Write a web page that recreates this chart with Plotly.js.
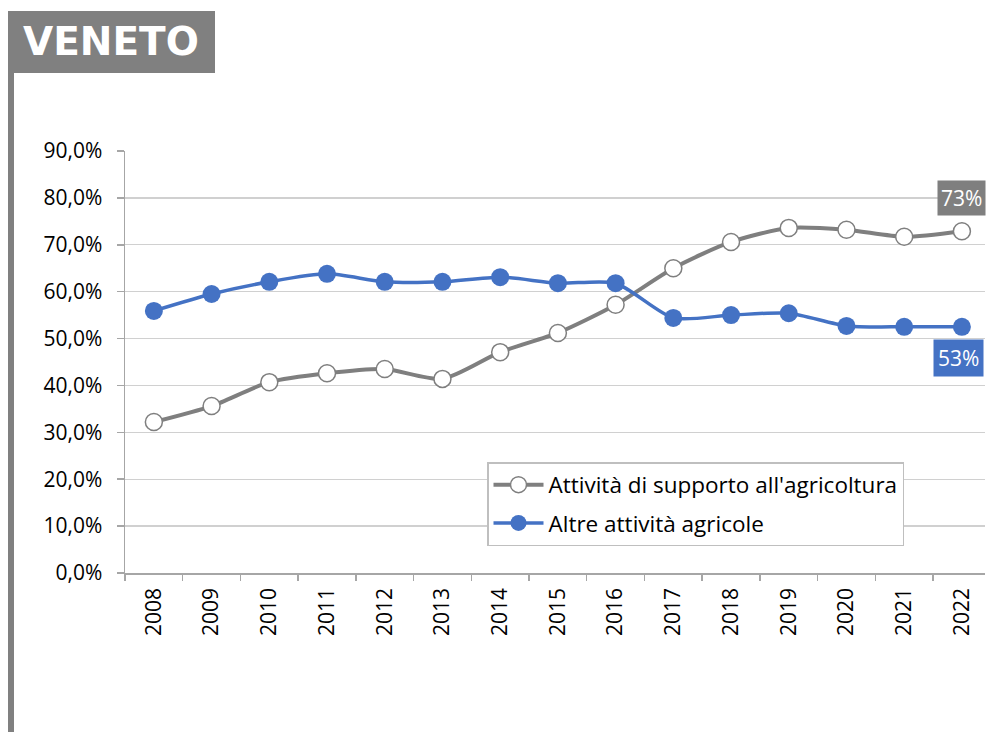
<!DOCTYPE html>
<html><head><meta charset="utf-8">
<script src="https://cdn.plot.ly/plotly-3.0.1.min.js"></script>
<style>html,body{margin:0;padding:0;background:#fff;}#chart{width:986px;height:732px;}</style>
</head><body><div id="chart"></div>
<script>
const years = ["2008","2009","2010","2011","2012","2013","2014","2015","2016","2017","2018","2019","2020","2021","2022"];
const supporto = [32.2,35.6,40.7,42.6,43.5,41.4,47.1,51.2,57.2,65.0,70.6,73.6,73.2,71.7,72.9];
const altre = [55.9,59.5,62.1,63.8,62.1,62.1,63.1,61.8,61.8,54.4,55.0,55.4,52.7,52.5,52.5];
const seriesNames = ["Attività di supporto all'agricoltura","Altre attività agricole"];
const lastLabels = ["73%","53%"];
const regionTitle = "VENETO";
const yTicks = [0,10,20,30,40,50,60,70,80,90];
const yTickText = ["0,0%","10,0%","20,0%","30,0%","40,0%","50,0%","60,0%","70,0%","80,0%","90,0%"];

const GRAY = "#7f7f7f", BLUE = "#4472c4";
const W = 986, H = 732, L = 125, R = 1, T = 151, B = 159;
const pw = W - L - R, ph = H - T - B;
const px = x => (x - L) / pw;
const py = y => (H - B - y) / ph;
const FONT = "'Open Sans', Lato, sans-serif";

const traces = [
  {x: years, y: supporto, name: seriesNames[0], legendgroup: "a", type: "scatter", mode: "lines+markers",
   line: {color: GRAY, width: 4, shape: "spline", smoothing: 0.7},
   marker: {size: 17, color: "#ffffff", line: {color: GRAY, width: 1.5}}},
  {x: years, y: altre, name: seriesNames[1], legendgroup: "b", type: "scatter", mode: "lines+markers",
   line: {color: BLUE, width: 3.5, shape: "spline", smoothing: 0.7},
   marker: {size: 18, color: BLUE, line: {color: BLUE, width: 0}}}
];

const last = years.length - 1;

const layout = {
  width: W, height: H,
  margin: {l: L, r: R, t: T, b: B, pad: 0},
  paper_bgcolor: "#ffffff", plot_bgcolor: "#ffffff",
  font: {family: FONT, color: "#000"},
  showlegend: true,
  xaxis: {
    type: "category", range: [-0.5, 14.4],
    tickangle: -90, tickfont: {size: 21, color: "#000"},
    showgrid: false, showline: true, linecolor: "#a6a6a6", linewidth: 1.5,
    ticks: "outside", tickson: "boundaries", ticklen: 6, tickcolor: "#a6a6a6", tickwidth: 1.5,
    ticklabelstandoff: 5,
    zeroline: false, fixedrange: true
  },
  yaxis: {
    range: [0, 90], tickmode: "array", tickvals: yTicks, ticktext: yTickText,
    tickfont: {size: 21, color: "#000"},
    showgrid: true, gridcolor: "#d0d0d0", gridwidth: 1.3,
    showline: true, linecolor: "#a6a6a6", linewidth: 1.5,
    ticks: "outside", ticklen: 7, tickcolor: "#a6a6a6", tickwidth: 1.5,
    ticklabelstandoff: 10,
    zeroline: false, fixedrange: true
  },
  legend: {
    x: px(487), y: py(462), xanchor: "left", yanchor: "top",
    bgcolor: "#ffffff", bordercolor: "#bfbfbf", borderwidth: 1.5,
    font: {size: 22.5, color: "#000"}, traceorder: "grouped", tracegroupgap: 6,
    itemwidth: 50
  },
  shapes: [
    {type: "rect", xref: "paper", yref: "paper", x0: px(8), x1: px(215), y0: py(73), y1: py(11),
     fillcolor: "#808080", line: {width: 0}, layer: "above"},
    {type: "rect", xref: "paper", yref: "paper", x0: px(8), x1: px(14), y0: py(732), y1: py(73),
     fillcolor: "#808080", line: {width: 0}, layer: "above"}
  ],
  annotations: [
    {xref: "paper", yref: "paper", x: px(111), y: py(42), xanchor: "center", yanchor: "middle",
     text: "<b>" + regionTitle + "</b>", showarrow: false,
     font: {family: "'DejaVu Sans', sans-serif", size: 39, color: "#ffffff"}},
    {x: last, y: supporto[last], xref: "x", yref: "y", text: lastLabels[0], showarrow: false,
     yshift: 33, xshift: 0, bgcolor: GRAY, borderpad: 3,
     font: {size: 21, color: "#ffffff"}},
    {x: last, y: altre[last], xref: "x", yref: "y", text: lastLabels[1], showarrow: false,
     yshift: -31, xshift: -3, bgcolor: BLUE, borderpad: 4,
     font: {size: 21, color: "#ffffff"}}
  ]
};

Plotly.newPlot("chart", traces, layout, {displayModeBar: false, staticPlot: true});
</script></body></html>
